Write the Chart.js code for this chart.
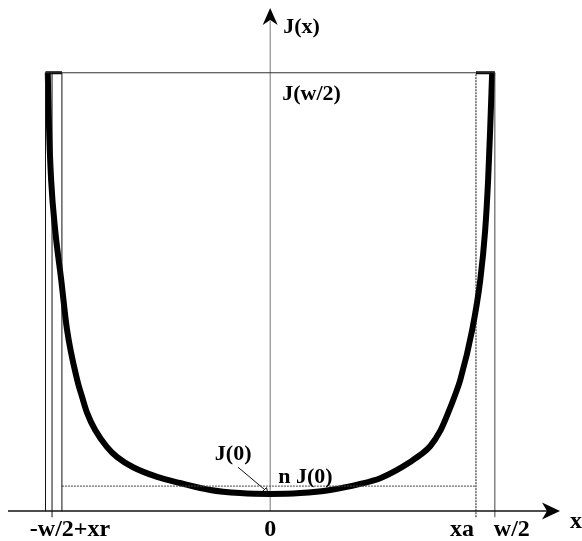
<!DOCTYPE html>
<html>
<head>
<meta charset="utf-8">
<script src="https://cdn.jsdelivr.net/npm/chart.js@4.4.1/dist/chart.umd.min.js"></script>
<style>
  html, body { margin: 0; padding: 0; background: #fff; }
  #wrap { width: 582px; height: 541px; }
</style>
</head>
<body>
<div id="wrap"><canvas id="chart" width="582" height="541"></canvas></div>
<script>
// current density across the strip: x in units of w/2, J in units of J(w/2)
const curveX = [-0.990, -0.984, -0.975, -0.957, -0.930, -0.904, -0.859, -0.837, -0.815, -0.779, -0.726,
                -0.681, -0.610, -0.503, -0.401, -0.267, -0.134, 0,
                 0.134, 0.267, 0.401, 0.490, 0.565, 0.623, 0.668, 0.712, 0.757, 0.792, 0.823, 0.846,
                 0.899, 0.935, 0.957, 0.970, 0.979, 0.988];
const curveY = [1.000, 0.869, 0.755, 0.641, 0.527, 0.413, 0.299, 0.260, 0.224, 0.185, 0.146,
                0.123, 0.100, 0.078, 0.064, 0.048, 0.041, 0.039,
                0.041, 0.048, 0.062, 0.075, 0.094, 0.112, 0.128, 0.148, 0.183, 0.224, 0.265, 0.299,
                0.413, 0.527, 0.641, 0.755, 0.869, 1.000];

// vertical guide lines: -w/2, -w/2+xr, inner edge, xa, w/2
const edgeX = [-1.0, -0.971, -0.927, 0.916, 1.0];
const edgeBottom = [0, -0.014, 0, -0.014, -0.014];

const jHalf = 1.0;     // J(w/2)
const jZero = 0.039;   // J(0)
const nJZero = 0.057;  // n J(0)

const tickValues = [-0.971, 0, 0.916, 1.0];
const tickLabels = ["-w/2+xr", "0", "xa", "w/2"];

const seg = (pts, width, color, dash) => ({
  data: pts,
  showLine: true,
  borderColor: color,
  borderWidth: width,
  borderDash: dash || [],
  pointRadius: 0,
  clip: false
});

const datasets = [];
datasets.push(seg([{ x: edgeX[0], y: jHalf }, { x: edgeX[4], y: jHalf }], 1.2, "#333"));
edgeX.forEach((ex, i) => {
  const dash = i === 3 ? [2, 1] : [];
  const color = i === 4 ? "#444" : "#111";
  datasets.push(seg([{ x: ex, y: edgeBottom[i] }, { x: ex, y: jHalf }], 1, color, dash));
});
datasets.push(seg([{ x: edgeX[2], y: nJZero }, { x: edgeX[3], y: nJZero }], 1, "#444", [2, 1]));
datasets.push(seg([{ x: edgeX[0], y: jHalf }, { x: edgeX[2], y: jHalf }], 3, "#000"));
datasets.push(seg([{ x: edgeX[3], y: jHalf }, { x: edgeX[4], y: jHalf }], 3, "#000"));
datasets.push(Object.assign(seg(curveX.map((v, i) => ({ x: v, y: curveY[i] })), 6, "#000"),
  { cubicInterpolationMode: "monotone" }));
// leader from the J(0) label to the minimum
datasets.push(Object.assign(seg([{ x: -0.143, y: 0.100 }, { x: -0.02, y: jZero + 0.008 }], 1, "#111"), {
  pointRadius: [0, 3], pointStyle: "triangle", pointBackgroundColor: "#fff", pointBorderColor: "#111",
  pointBorderWidth: 1, pointRotation: 135
}));

const axesPlugin = {
  id: "axes",
  beforeDatasetsDraw(chart) {
    const { ctx, chartArea, scales: { x, y } } = chart;
    const x0 = x.getPixelForValue(0), y0 = y.getPixelForValue(0);
    ctx.save();
    ctx.strokeStyle = "#777";
    ctx.lineWidth = 1;
    ctx.beginPath();
    ctx.moveTo(x0, y0);
    ctx.lineTo(x0, chartArea.top + 14);
    ctx.stroke();
    ctx.restore();
  },
  afterDatasetsDraw(chart) {
    const { ctx, chartArea, scales: { x, y } } = chart;
    const x0 = x.getPixelForValue(0), y0 = y.getPixelForValue(0);
    const top = chartArea.top + 1, right = chartArea.right;
    ctx.save();
    // y arrow
    ctx.fillStyle = "#000";
    ctx.beginPath();
    ctx.moveTo(x0, top);
    ctx.lineTo(x0 + 7.5, top + 17);
    ctx.lineTo(x0, top + 12);
    ctx.lineTo(x0 - 7.5, top + 17);
    ctx.closePath();
    ctx.fill();
    // x axis + arrow
    ctx.strokeStyle = "#111";
    ctx.lineWidth = 1.5;
    ctx.beginPath();
    ctx.moveTo(chartArea.left, y0);
    ctx.lineTo(right - 10, y0);
    ctx.stroke();
    ctx.beginPath();
    ctx.moveTo(right, y0);
    ctx.lineTo(right - 18, y0 - 8.5);
    ctx.lineTo(right - 13, y0);
    ctx.lineTo(right - 18, y0 + 8.5);
    ctx.closePath();
    ctx.fill();

    ctx.font = 'bold 22px "Liberation Serif", "DejaVu Serif", serif';
    ctx.textBaseline = "middle";
    ctx.textAlign = "left";
    ctx.fillText("J(x)", x0 + 13, 27);
    ctx.fillText("J(w/2)", x0 + 12, y.getPixelForValue(jHalf) + 22);
    ctx.fillText("n J(0)", x0 + 8, y.getPixelForValue(nJZero) - 9);
    ctx.textAlign = "center";
    ctx.fillText("J(0)", x0 - 37, y.getPixelForValue(nJZero) - 32);

    ctx.font = 'bold 24px "Liberation Serif", "DejaVu Serif", serif';
    ctx.fillText("x", 576, y0 + 11);
    const ly = y0 + 19;
    tickValues.forEach((tv, i) => {
      const px = x.getPixelForValue(tv);
      if (i === 0) { ctx.textAlign = "center"; ctx.fillText(tickLabels[i], px + 18, ly); }
      else if (i === 1) { ctx.textAlign = "center"; ctx.fillText(tickLabels[i], px, ly); }
      else if (i === 2) { ctx.textAlign = "right"; ctx.fillText(tickLabels[i], px - 2, ly); }
      else { ctx.textAlign = "left"; ctx.fillText(tickLabels[i], px - 1, ly); }
    });
    ctx.restore();
  }
};

new Chart(document.getElementById("chart"), {
  type: "scatter",
  data: { datasets },
  options: {
    responsive: false,
    devicePixelRatio: 1,
    animation: false,
    layout: { padding: { left: 8, right: 22, top: 7, bottom: 8 } },
    plugins: { legend: { display: false }, tooltip: { enabled: false } },
    scales: {
      x: { type: "linear", min: -1.167, max: 1.29, display: false },
      y: { type: "linear", min: -0.05, max: 1.15, display: false }
    }
  },
  plugins: [axesPlugin]
});
</script>
</body>
</html>
